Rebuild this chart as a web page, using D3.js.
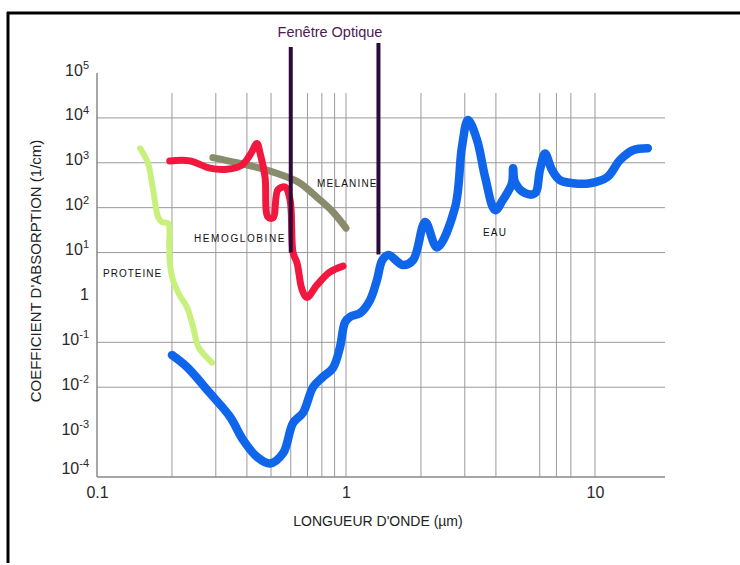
<!DOCTYPE html>
<html>
<head>
<meta charset="utf-8">
<script src="https://cdn.jsdelivr.net/npm/d3@7"></script>
<style>
  body { margin: 0; background: #fff; }
  svg { display: block; font-family: "Liberation Sans", Arial, sans-serif; }
</style>
</head>
<body>
<svg id="chart" width="740" height="565"></svg>
<script>
// tick values and labels
var xTicks = [0.1, 1, 10];
var xTickLabels = ["0.1", "1", "10"];
var yTicks = [1e5, 1e4, 1e3, 1e2, 1e1, 1, 1e-1, 1e-2, 1e-3, 1e-4];
var yExponents = ["5", "4", "3", "2", "1", "", "-1", "-2", "-3", "-4"];
var xGrid = [0.2, 0.3, 0.4, 0.5, 0.6, 0.7, 0.8, 0.9, 1, 2, 3, 4, 6, 7, 8, 10];
var yGrid = [1e4, 1e3, 1e2, 1e1, 1e-1, 1e-2];

// optical window (µm)
var windowEdges = [0.6, 1.35];

// PROTEINE
var protLambda = [0.149, 0.160, 0.168, 0.176, 0.182, 0.193, 0.195, 0.196, 0.202, 0.215, 0.230, 0.243, 0.255, 0.272, 0.29];
var protValue  = [2100, 1000, 250, 62, 48, 45, 15, 6, 2.4, 1.1, 0.6, 0.22, 0.08, 0.05, 0.035];

// HEMOGLOBINE
var hemoLambda = [0.196, 0.236, 0.284, 0.333, 0.382, 0.412, 0.439, 0.451, 0.473, 0.486, 0.509, 0.533, 0.569, 0.596, 0.613, 0.636, 0.666, 0.697, 0.765, 0.863, 0.973];
var hemoValue  = [1100, 1100, 760, 720, 890, 1500, 2700, 1700, 480, 62, 59, 250, 290, 150, 10, 5.8, 1.5, 1.0, 1.9, 3.7, 5.0];

// MELANINE
var melLambda = [0.292, 0.365, 0.451, 0.58, 0.654, 0.765, 0.887, 1.0];
var melValue  = [1300, 1000, 760, 480, 350, 170, 80, 35];

// EAU
var eauLambda = [0.2, 0.23, 0.284, 0.342, 0.386, 0.439, 0.495, 0.559, 0.613, 0.672, 0.737, 0.808, 0.887, 0.946, 0.991, 1.04, 1.14, 1.25, 1.33, 1.4, 1.48, 1.69, 1.86, 2.08, 2.32, 2.74, 2.92, 3.09, 3.36, 3.62, 3.97, 4.27, 4.64, 4.69, 4.77, 5.24, 5.74, 6.01, 6.3, 6.72, 7.23, 8.16, 9.55, 11.2, 12.6, 14.2, 16.3];
var eauValue  = [0.052, 0.028, 0.0074, 0.0022, 0.00067, 0.00028, 0.0002, 0.00034, 0.0016, 0.0027, 0.01, 0.017, 0.027, 0.078, 0.28, 0.37, 0.45, 0.88, 2.4, 6.8, 8.8, 5.3, 6.8, 48, 13, 100, 2200, 9000, 3200, 480, 88, 150, 350, 760, 370, 210, 210, 690, 1600, 690, 410, 350, 350, 480, 1150, 1900, 2100];

var svg = d3.select("#chart");
var plotLeft = 97, plotRight = 665, plotBottom = 477, plotTop = 73, gridTop = 93;

var x = d3.scaleLog().domain([0.1, 10]).range([plotLeft, 595]);
var y = d3.scaleLog().domain([1e-4, 1e5]).range([plotBottom, plotTop]);

/* frame */
svg.append("line").attr("x1", 7).attr("x2", 740).attr("y1", 13).attr("y2", 13)
   .attr("stroke", "#000").attr("stroke-width", 3);
svg.append("line").attr("x1", 8).attr("x2", 8).attr("y1", 12).attr("y2", 563)
   .attr("stroke", "#000").attr("stroke-width", 3);

/* grid */
svg.append("g").selectAll("line").data(xGrid).enter().append("line")
   .attr("x1", function(d) { return x(d); }).attr("x2", function(d) { return x(d); })
   .attr("y1", gridTop).attr("y2", plotBottom)
   .attr("stroke", "#9a9a9a").attr("stroke-width", 1);
svg.append("g").selectAll("line").data(yGrid).enter().append("line")
   .attr("x1", plotLeft).attr("x2", plotRight)
   .attr("y1", function(d) { return y(d); }).attr("y2", function(d) { return y(d); })
   .attr("stroke", "#9a9a9a").attr("stroke-width", 1);

/* axes */
var xAxis = svg.append("g").attr("transform", "translate(0," + plotBottom + ")")
   .call(d3.axisBottom(x).tickValues(xTicks).tickSize(0).tickPadding(10)
         .tickFormat(function(d, i) { return xTickLabels[i]; }));
xAxis.select(".domain").remove();
xAxis.selectAll("text").style("font-size", "16px").attr("fill", "#2a2a2a")
     .attr("font-family", "Liberation Sans, Arial, sans-serif");

var yAxis = svg.append("g").attr("transform", "translate(" + plotLeft + ",0)")
   .call(d3.axisLeft(y).tickValues(yTicks).tickSize(0).tickPadding(8).tickFormat(""));
yAxis.select(".domain").remove();
yAxis.selectAll(".tick text").each(function(d, i) {
  var t = d3.select(this).attr("font-family", "Liberation Sans, Arial, sans-serif")
            .attr("fill", "#2a2a2a").attr("dy", i == yTicks.length - 1 ? "-0.35em" : "0.2em");
  if (yExponents[i] === "") {
    t.append("tspan").style("font-size", "16px").text("1");
  } else {
    t.append("tspan").style("font-size", "16px").text("10");
    t.append("tspan").style("font-size", "11px").attr("dy", "-0.6em").text(yExponents[i]);
  }
});

svg.append("line").attr("x1", plotLeft).attr("x2", plotLeft).attr("y1", plotTop).attr("y2", plotBottom)
   .attr("stroke", "#888").attr("stroke-width", 1.5);
svg.append("line").attr("x1", plotLeft).attr("x2", plotRight).attr("y1", plotBottom).attr("y2", plotBottom)
   .attr("stroke", "#888").attr("stroke-width", 1.5);

/* axis titles */
svg.append("text").attr("x", 378).attr("y", 526).attr("text-anchor", "middle")
   .style("font-size", "14px").attr("fill", "#222").text("LONGUEUR D'ONDE (µm)");
svg.append("text").attr("transform", "translate(41,271) rotate(-90)").attr("text-anchor", "middle")
   .style("font-size", "15px").attr("fill", "#222").text("COEFFICIENT D'ABSORPTION (1/cm)");

/* curves */
var line = d3.line()
  .x(function(d) { return x(d[0]); })
  .y(function(d) { return y(d[1]); })
  .curve(d3.curveCatmullRom.alpha(0.5));

function drawCurve(lambda, value, color, width) {
  svg.append("path")
     .datum(d3.zip(lambda, value))
     .attr("d", line)
     .attr("fill", "none")
     .attr("stroke", color)
     .attr("stroke-width", width)
     .attr("stroke-linejoin", "round")
     .attr("stroke-linecap", "round");
}

drawCurve(melLambda, melValue, "#8a8b6d", 7);
drawCurve(protLambda, protValue, "#c8f07c", 6);
drawCurve(hemoLambda, hemoValue, "#f2173f", 7);
drawCurve(eauLambda, eauValue, "#0f66ea", 8.5);

/* optical window */
var bars = [[windowEdges[0], 47, 10], [windowEdges[1], 43, 9]];
svg.append("g").selectAll("line").data(bars).enter().append("line")
   .attr("x1", function(d) { return x(d[0]); }).attr("x2", function(d) { return x(d[0]); })
   .attr("y1", function(d) { return d[1]; }).attr("y2", function(d) { return y(d[2]); })
   .attr("stroke", "#2e0a3c").attr("stroke-width", 4);
svg.append("text").attr("x", 330).attr("y", 37).attr("text-anchor", "middle")
   .style("font-size", "14.5px").attr("fill", "#4e1a55").text("Fenêtre Optique");

/* curve labels */
var labels = [["PROTEINE", 103, 277, 1], ["HEMOGLOBINE", 194, 242, 1.6], ["MELANINE", 317, 187, 1.2], ["EAU", 483, 236, 1.2]];
svg.append("g").selectAll("text").data(labels).enter().append("text")
   .attr("x", function(d) { return d[1]; }).attr("y", function(d) { return d[2]; })
   .style("font-size", "10px").style("letter-spacing", function(d) { return d[3] + "px"; })
   .attr("fill", "#111").text(function(d) { return d[0]; });
</script>
</body>
</html>
